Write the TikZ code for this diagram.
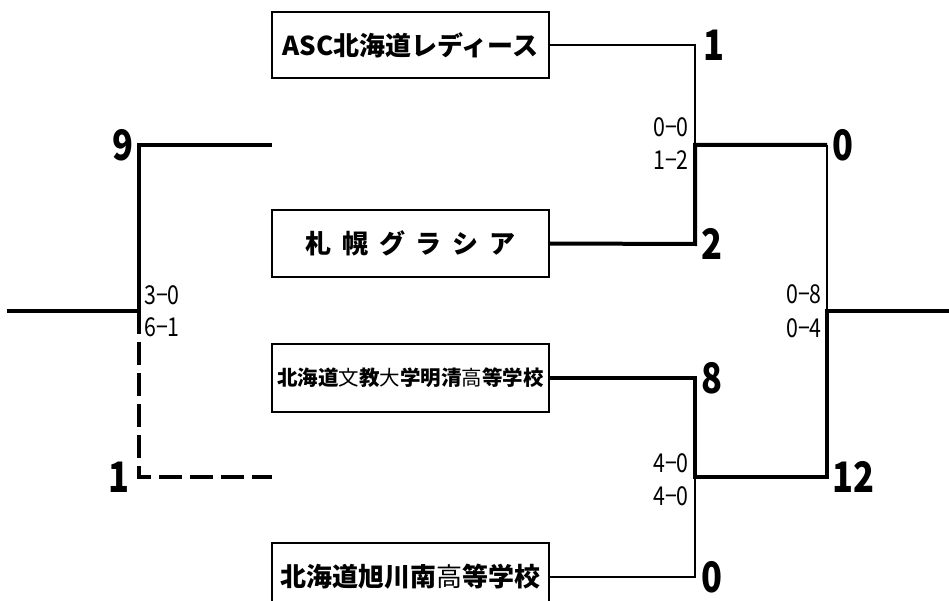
\documentclass[tikz,border=0pt]{standalone}
\usepackage{fontspec}
\newfontfamily\jp{Noto Sans CJK JP}
\newcommand{\narrowtxt}[1]{\scalebox{0.82}[1]{#1}}
\begin{document}
\begin{tikzpicture}[x=1pt,y=-1pt,
  team/.style={draw,line width=1.6pt,minimum width=277pt,minimum height=66pt,inner sep=0pt,font=\jp\bfseries},
  thinln/.style={line width=1.8pt,line join=miter},
  thickln/.style={line width=4pt,line join=miter},
  dashln/.style={line width=4pt,line join=miter,dash pattern=on 23pt off 8pt},
  goal/.style={inner sep=0pt,font=\jp\bfseries\fontsize{42}{42}\selectfont},
  score/.style={inner sep=0pt,font=\jp\fontsize{26}{26}\selectfont}]
\useasboundingbox (0,0) rectangle (949,601);
\clip (0,0) rectangle (949,601);
% team boxes
\node[team,font=\jp\bfseries\fontsize{26}{26}\selectfont] (t1) at (410.5,45) {ASC北海道レディース};
\node[team,minimum height=67pt,font=\jp\bfseries\fontsize{26}{26}\selectfont] (t2) at (410.5,243.5) {札\hspace{11pt}幌\hspace{11pt}グ\hspace{11pt}ラ\hspace{11pt}シ\hspace{11pt}ア};
\node[team,minimum height=68pt,font=\jp\bfseries\fontsize{20.5}{20.5}\selectfont] (t3) at (410.5,378) {北海道{\mdseries 文}教{\mdseries 大}学明清{\mdseries 高}等学校};
\node[team,minimum height=68pt,font=\jp\bfseries\fontsize{26}{26}\selectfont] (t4) at (410.5,577) {北海道旭川南{\mdseries 高}等学校};
% junction points
\coordinate (a) at (695,45);
\coordinate (b) at (695,145);
\coordinate (c) at (695,244);
\coordinate (d) at (827,145);
\coordinate (e) at (827,311);
\coordinate (f) at (827,477);
\coordinate (g) at (949,311);
\coordinate (h) at (695,378);
\coordinate (i) at (695,477);
\coordinate (j) at (695,577);
\coordinate (l0) at (7,311);
\coordinate (l1) at (139,145);
\coordinate (l1e) at (272,145);
\coordinate (l2) at (139,311);
\coordinate (l3) at (139,477);
\coordinate (l3e) at (272,477);
% right bracket
\draw[thinln] (t1.east) -- (a) -- (b);
\draw[thickln] (t2.east) -- (c) -- (b) -- (d);
\draw[thinln] (d) -- (e);
\draw[thickln] (g) -- (e) -- (f) -- (i) -- (h) -- (t3.east);
\draw[thinln] (t4.east) -- (j) -- (i);
% left bracket
\draw[thickln] (l0) -- (l2) -- (l1) -- (l1e);
\draw[dashln] (l2) -- (l3) -- (l3e);
% goals
\node[goal,anchor=west] (n1) at (703,45) {\narrowtxt{1}};
\node[goal,anchor=west] (n2) at (701,244) {\narrowtxt{2}};
\node[goal,anchor=west] (n8) at (701,378) {\narrowtxt{8}};
\node[goal,anchor=west] (n0) at (701,577) {\narrowtxt{0}};
\node[goal,anchor=west] (m0) at (832,145) {\narrowtxt{0}};
\node[goal,anchor=west] (m12) at (832,477) {\narrowtxt{12}};
\node[goal,anchor=east] (k9) at (134,145) {\narrowtxt{9}};
\node[goal,anchor=east] (k1) at (130,477) {\narrowtxt{1}};
% scores
\node[score,anchor=east] (s1) at (689,127) {\narrowtxt{0−0}};
\node[score,anchor=east] (s2) at (689,160) {\narrowtxt{1−2}};
\node[score,anchor=east] (s3) at (689,463) {\narrowtxt{4−0}};
\node[score,anchor=east] (s4) at (689,496) {\narrowtxt{4−0}};
\node[score,anchor=east] (s5) at (822,294) {\narrowtxt{0−8}};
\node[score,anchor=east] (s6) at (822,328) {\narrowtxt{0−4}};
\node[score,anchor=west] (s7) at (144,295) {\narrowtxt{3−0}};
\node[score,anchor=west] (s8) at (144,327) {\narrowtxt{6−1}};
\end{tikzpicture}
\end{document}
